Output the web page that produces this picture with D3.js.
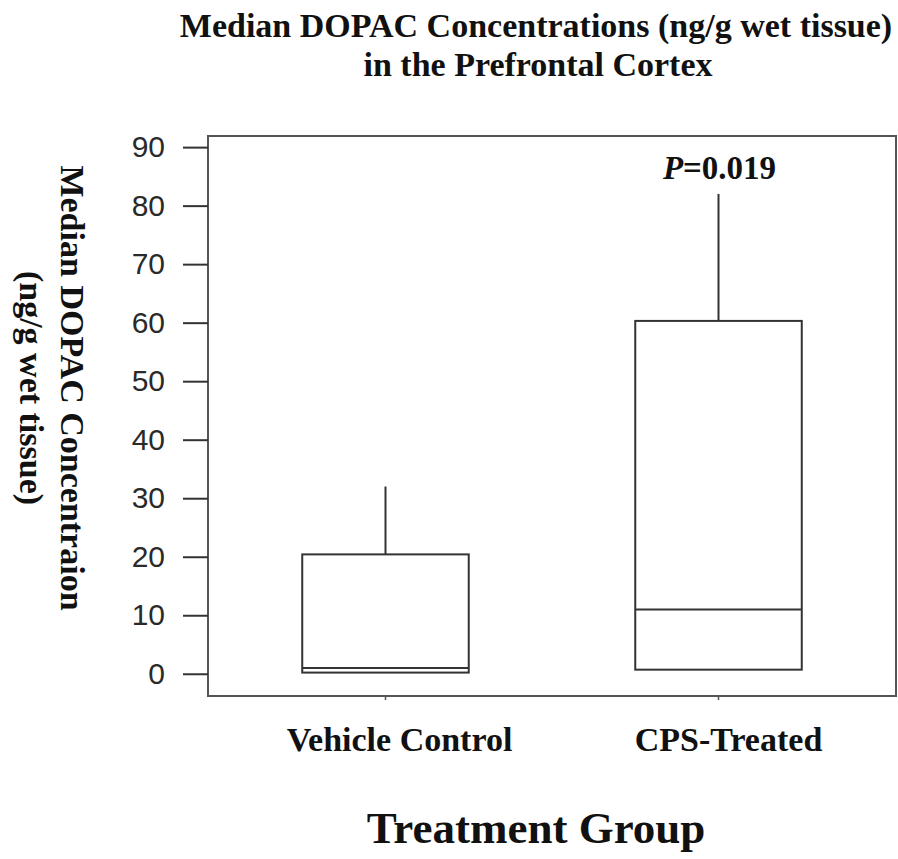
<!DOCTYPE html>
<html lang="en">
<head>
<meta charset="UTF-8">
<title>DOPAC box plot</title>
<style>
  body { margin: 0; background: #fff; }
  .serif { font-family: "Liberation Serif", "Times New Roman", Times, serif; font-weight: bold; fill: #111; }
  .tick text { font-family: "Liberation Sans", Arial, sans-serif; font-size: 30px; fill: #2a2a2a; }
</style>
</head>
<body>
<div id="chart"></div>
<script src="https://d3js.org/d3.v7.min.js"></script>
<script>
// values
var groups = ["Vehicle Control", "CPS-Treated"]
var q1 = [0.2, 0.7]
var medians = [1.0, 11.0]
var q3 = [20.4, 60.3]
var whiskerLow = [0.2, 0.7]
var whiskerHigh = [32.0, 82.0]
var yTicks = [0, 10, 20, 30, 40, 50, 60, 70, 80, 90]
var pLabel = { group: "CPS-Treated", value: 84.5, italic: "P", rest: "=0.019" }

var width = 898, height = 859
var plotLeft = 208, plotRight = 896, plotTop = 136, plotBottom = 696

var svg = d3.select("#chart").append("svg")
  .attr("width", width).attr("height", height)

var x = d3.scalePoint().domain(groups).range([plotLeft, plotRight]).padding(0.533)
var y = d3.scaleLinear().domain([-3.8, 91.9]).range([plotBottom, plotTop])
var half = x.step() * 0.25

// frame
svg.append("rect")
  .attr("x", plotLeft).attr("y", plotTop)
  .attr("width", plotRight - plotLeft).attr("height", plotBottom - plotTop)
  .attr("fill", "none").attr("stroke", "#555").attr("stroke-width", 2)

// y axis
var yAxis = d3.axisLeft(y).tickValues(yTicks).tickSize(25).tickPadding(18)
var gy = svg.append("g").attr("transform", "translate(" + plotLeft + ",0)").call(yAxis)
gy.select(".domain").remove()
gy.selectAll(".tick line").attr("stroke", "#333").attr("stroke-width", 2)

// small ticks at the bottom for the groups
svg.selectAll(".xtick").data(groups).enter().append("line")
  .attr("x1", function(d){ return x(d) }).attr("x2", function(d){ return x(d) })
  .attr("y1", plotBottom).attr("y2", plotBottom + 4)
  .attr("stroke", "#555").attr("stroke-width", 1.5)

// boxes
var boxes = svg.selectAll(".box").data(groups).enter().append("g")

boxes.append("line")
  .attr("x1", function(d){ return x(d) }).attr("x2", function(d){ return x(d) })
  .attr("y1", function(d, i){ return y(q3[i]) })
  .attr("y2", function(d, i){ return y(whiskerHigh[i]) })
  .attr("stroke", "#333").attr("stroke-width", 2)

boxes.append("line")
  .attr("x1", function(d){ return x(d) }).attr("x2", function(d){ return x(d) })
  .attr("y1", function(d, i){ return y(q1[i]) })
  .attr("y2", function(d, i){ return y(whiskerLow[i]) })
  .attr("stroke", "#333").attr("stroke-width", 2)

boxes.append("rect")
  .attr("x", function(d){ return x(d) - half })
  .attr("width", half * 2)
  .attr("y", function(d, i){ return y(q3[i]) })
  .attr("height", function(d, i){ return y(q1[i]) - y(q3[i]) })
  .attr("fill", "#fff").attr("stroke", "#333").attr("stroke-width", 2)

boxes.append("line")
  .attr("x1", function(d){ return x(d) - half }).attr("x2", function(d){ return x(d) + half })
  .attr("y1", function(d, i){ return y(medians[i]) })
  .attr("y2", function(d, i){ return y(medians[i]) })
  .attr("stroke", "#333").attr("stroke-width", 2)

// p value
var pt = svg.append("text").attr("class", "serif")
  .attr("x", x(pLabel.group) + 1).attr("y", y(pLabel.value))
  .attr("text-anchor", "middle").style("font-size", "33px")
pt.append("tspan").style("font-style", "italic").text(pLabel.italic)
pt.append("tspan").text(pLabel.rest)

// group labels
svg.selectAll(".glabel").data(groups).enter().append("text")
  .attr("class", "serif")
  .attr("x", function(d, i){ return x(d) + (i == 0 ? 14 : 10) })
  .attr("y", 751)
  .attr("text-anchor", "middle")
  .style("font-size", "34px")
  .text(function(d){ return d })

// titles
svg.append("text").attr("class", "serif")
  .attr("x", 536).attr("y", 37).attr("text-anchor", "middle")
  .style("font-size", "34px")
  .text("Median DOPAC Concentrations (ng/g wet tissue)")
svg.append("text").attr("class", "serif")
  .attr("x", 538).attr("y", 76).attr("text-anchor", "middle")
  .style("font-size", "34px")
  .text("in the Prefrontal Cortex")

svg.append("text").attr("class", "serif")
  .attr("x", 536).attr("y", 843).attr("text-anchor", "middle")
  .style("font-size", "45px")
  .text("Treatment Group")

svg.append("text").attr("class", "serif")
  .attr("transform", "translate(61,388) rotate(90)")
  .attr("text-anchor", "middle")
  .style("font-size", "34px")
  .text("Median DOPAC Concentraion")
svg.append("text").attr("class", "serif")
  .attr("transform", "translate(20,388) rotate(90)")
  .attr("text-anchor", "middle")
  .style("font-size", "34px")
  .text("(ng/g wet tissue)")
</script>
</body>
</html>
